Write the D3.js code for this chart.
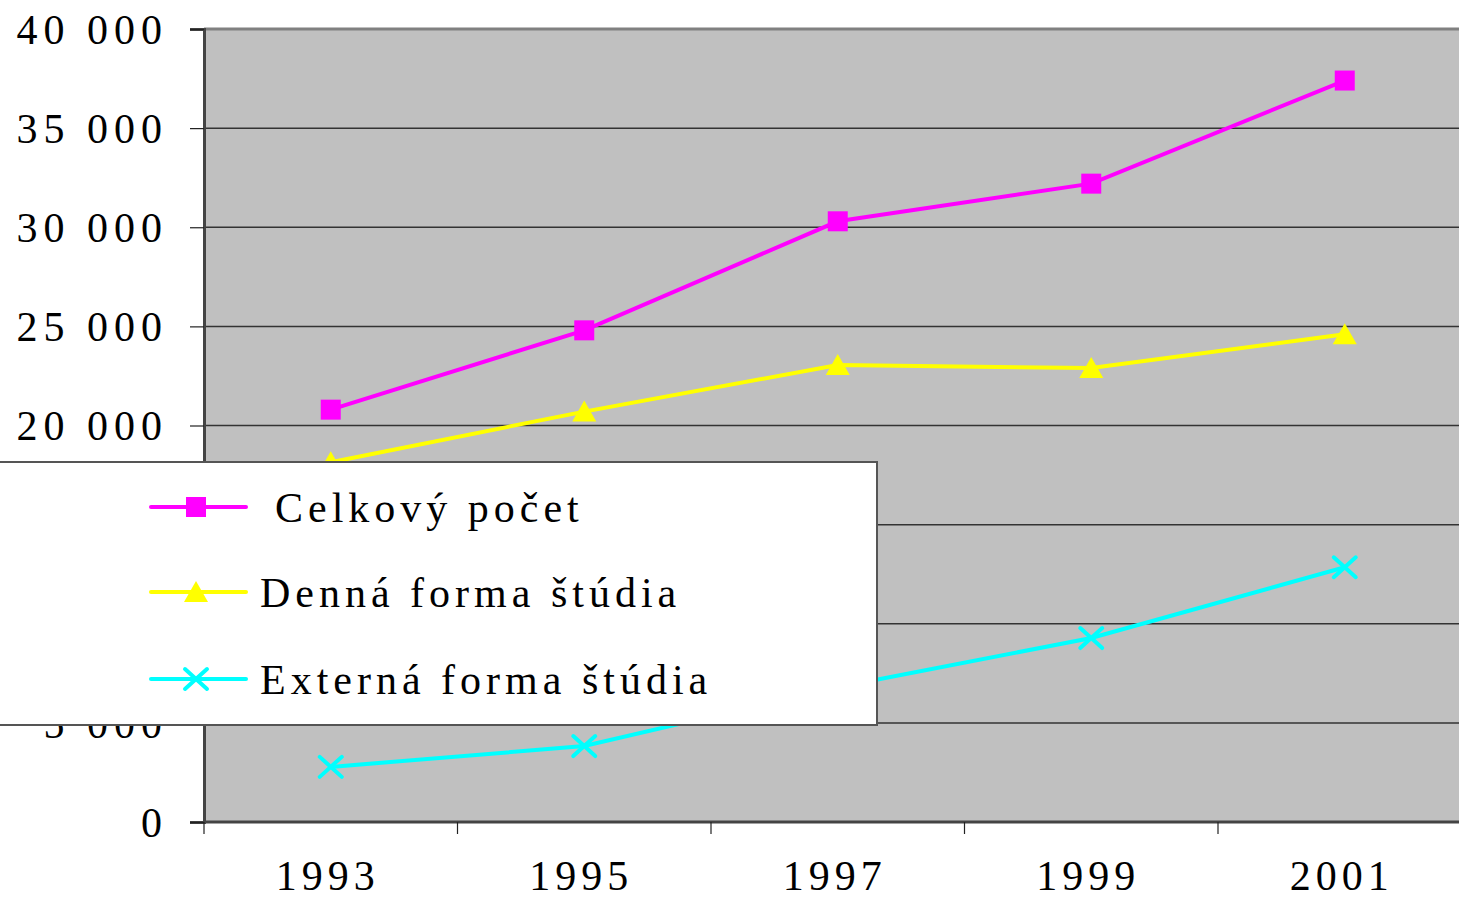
<!DOCTYPE html>
<html>
<head>
<meta charset="utf-8">
<script src="https://cdn.jsdelivr.net/npm/d3@7"></script>
<style>
    body { margin: 0; background: #fff; overflow: hidden; }
    svg { display: block; }
</style>
</head>
<body>
<svg id="chart"></svg>
<script>
// data
const years = ['1993', '1995', '1997', '1999', '2001'];
const celkovy = [20800, 24800, 30300, 32200, 37400];
const denna = [18150, 20700, 23050, 22900, 24600];
const externa = [2780, 3830, 6800, 9280, 12850];
const seriesNames = ['Celkový počet', 'Denná forma štúdia', 'Externá forma štúdia'];
const yTicks = [0, 5000, 10000, 15000, 20000, 25000, 30000, 35000, 40000];

document.addEventListener('DOMContentLoaded', () => {
    const W = 1459, H = 900;
    const font = '"Liberation Serif", "Times New Roman", serif';

    const svg = d3.select('#chart').attr('width', W).attr('height', H);

    // plot area (the band axis runs past the right edge, like the original crop)
    const left = 204, top = 29, bottom = 822;
    const bandW = 253.5;

    const x = d3.scaleBand()
        .domain(years)
        .range([left, left + bandW * years.length])
        .padding(0);

    const y = d3.scaleLinear()
        .domain([0, 40000])
        .range([bottom, top]);

    const fmt = d3.formatLocale({ decimal: ',', thousands: ' ', grouping: [3], currency: ['', ''] }).format(',d');

    // grey background
    svg.append('rect')
        .attr('x', left).attr('y', top)
        .attr('width', W - left).attr('height', bottom - top)
        .attr('fill', '#c0c0c0');

    // gridlines
    svg.append('g')
        .selectAll('line')
        .data(yTicks.filter(d => d > 0 && d < 40000))
        .enter()
        .append('line')
        .attr('x1', left).attr('x2', W)
        .attr('y1', d => y(d)).attr('y2', d => y(d))
        .attr('stroke', '#333')
        .attr('stroke-width', 1.5);

    // top border of plot area
    svg.append('line')
        .attr('x1', left).attr('x2', W)
        .attr('y1', top).attr('y2', top)
        .attr('stroke', '#808080')
        .attr('stroke-width', 3);

    // y axis
    const yAxis = svg.append('g')
        .attr('transform', `translate(${left},0)`)
        .call(d3.axisLeft(y).tickValues(yTicks).tickSize(14).tickPadding(22).tickFormat(fmt));
    yAxis.select('.domain').attr('stroke', '#444').attr('stroke-width', 3);
    yAxis.selectAll('.tick line').attr('stroke', '#222').attr('stroke-width', 1.2);
    yAxis.selectAll('text')
        .attr('font-family', font)
        .attr('font-size', 42)
        .attr('letter-spacing', '6px')
        .attr('fill', '#000')
        .attr('dy', '0.34em');

    // x axis: ticks between categories
    const xAxis = svg.append('g')
        .attr('transform', `translate(0,${bottom})`);
    xAxis.append('line')
        .attr('x1', left).attr('x2', W)
        .attr('y1', 0).attr('y2', 0)
        .attr('stroke', '#444').attr('stroke-width', 3);
    xAxis.selectAll('.tk')
        .data(years)
        .enter()
        .append('line')
        .attr('class', 'tk')
        .attr('x1', d => x(d)).attr('x2', d => x(d))
        .attr('y1', 0).attr('y2', 12)
        .attr('stroke', '#222').attr('stroke-width', 1.2);
    xAxis.selectAll('.lbl')
        .data(years)
        .enter()
        .append('text')
        .attr('class', 'lbl')
        .attr('x', d => x(d) + x.bandwidth() / 2 - 3)
        .attr('y', 68)
        .attr('text-anchor', 'middle')
        .attr('font-family', font)
        .attr('font-size', 42)
        .attr('letter-spacing', '5px')
        .attr('fill', '#000')
        .text(d => d);

    const cx = d => x(d) + x.bandwidth() / 2;

    const series = [
        { name: seriesNames[0], values: celkovy, color: '#ff00ff', marker: 'square' },
        { name: seriesNames[1], values: denna, color: '#ffff00', marker: 'triangle' },
        { name: seriesNames[2], values: externa, color: '#00ffff', marker: 'cross' }
    ];

    const drawMarker = (g, type, color) => {
        if (type === 'square') {
            g.append('rect')
                .attr('x', -10).attr('y', -10)
                .attr('width', 20).attr('height', 20)
                .attr('fill', color);
        } else if (type === 'triangle') {
            g.append('path')
                .attr('d', 'M0,-11L12,10L-12,10Z')
                .attr('fill', color);
        } else {
            g.append('path')
                .attr('d', 'M-11,-10L11,10M-11,10L11,-10')
                .attr('stroke', color)
                .attr('stroke-width', 4)
                .attr('stroke-linecap', 'round')
                .attr('fill', 'none');
        }
    };

    const line = d3.line()
        .x((d, i) => cx(years[i]))
        .y(d => y(d));

    series.forEach(s => {
        svg.append('path')
            .datum(s.values)
            .attr('d', line)
            .attr('fill', 'none')
            .attr('stroke', s.color)
            .attr('stroke-width', 4);

        s.values.forEach((v, i) => {
            const g = svg.append('g')
                .attr('transform', `translate(${cx(years[i])},${y(v)})`);
            drawMarker(g, s.marker, s.color);
        });
    });

    // legend box on top of the plot
    const legend = svg.append('g');
    legend.append('rect')
        .attr('x', -2).attr('y', 462)
        .attr('width', 879).attr('height', 263)
        .attr('fill', '#fff')
        .attr('stroke', '#555')
        .attr('stroke-width', 2);

    const rowY = [507, 592, 679];
    const textX = [275, 260, 260];
    series.forEach((s, i) => {
        const row = legend.append('g').attr('transform', `translate(0,${rowY[i]})`);
        row.append('line')
            .attr('x1', 151).attr('x2', 246)
            .attr('y1', 0).attr('y2', 0)
            .attr('stroke', s.color)
            .attr('stroke-width', 4)
            .attr('stroke-linecap', 'round');
        const m = row.append('g').attr('transform', 'translate(196,0)');
        drawMarker(m, s.marker, s.color);
        row.append('text')
            .attr('x', textX[i])
            .attr('y', 15)
            .attr('font-family', font)
            .attr('font-size', 42)
            .attr('letter-spacing', '5px')
            .attr('fill', '#000')
            .text(s.name);
    });
});
</script>
</body>
</html>
